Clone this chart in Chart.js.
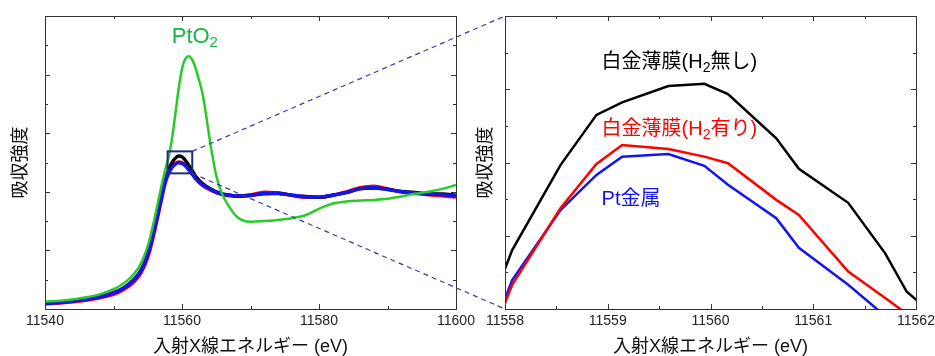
<!DOCTYPE html>
<html>
<head>
<meta charset="utf-8">
<script src="https://cdn.jsdelivr.net/npm/chart.js@4"></script>
<style>
	body { margin: 0; background: #ffffff; }
	#wrap { position: relative; width: 935px; height: 356px; }
	canvas { position: absolute; left: 0; top: 0; }
</style>
</head>
<body>
<div id="wrap">
	<canvas id="wideChart" width="935" height="356"></canvas>
	<canvas id="zoomChart" width="935" height="356"></canvas>
</div>
<script>
// Full XANES spectra (left panel)
const leftEnergy = [11540, 11543, 11546, 11548, 11550, 11551, 11552, 11553, 11554, 11555, 11556, 11557, 11557.5, 11558, 11558.5, 11559, 11559.5, 11560, 11560.5, 11561, 11561.5, 11562, 11562.5, 11563, 11563.5, 11564, 11564.5, 11565, 11565.5, 11566, 11567, 11568, 11570, 11572, 11574, 11576, 11578, 11580, 11582, 11584, 11586, 11588, 11590, 11592, 11594, 11596, 11598, 11600];
const pto2 = [0.25, 0.3, 0.4, 0.5, 0.68, 0.8, 0.97, 1.2, 1.55, 2.15, 3.1, 4.2, 4.7, 5.15, 5.75, 6.6, 7.5, 8.2, 8.55, 8.63, 8.5, 8.2, 7.8, 7.35, 6.65, 5.85, 5.15, 4.55, 4.15, 3.85, 3.45, 3.15, 2.98, 3.0, 3.04, 3.1, 3.2, 3.42, 3.6, 3.67, 3.7, 3.72, 3.76, 3.84, 3.93, 4.0, 4.1, 4.23];
const ptFoil = [0.19, 0.24, 0.33, 0.41, 0.55, 0.65, 0.8, 1.0, 1.3, 1.85, 2.75, 3.8, 4.3, 4.62, 4.82, 4.94, 4.99, 4.97, 4.88, 4.75, 4.6, 4.45, 4.33, 4.24, 4.16, 4.1, 4.04, 3.99, 3.95, 3.92, 3.88, 3.86, 3.87, 3.95, 3.94, 3.89, 3.83, 3.82, 3.88, 3.98, 4.1, 4.14, 4.08, 4.0, 3.96, 3.93, 3.9, 3.86];
const filmH2 = [0.17, 0.22, 0.3, 0.38, 0.5, 0.6, 0.74, 0.93, 1.22, 1.75, 2.65, 3.72, 4.25, 4.6, 4.83, 4.96, 5.02, 5.0, 4.9, 4.76, 4.6, 4.45, 4.32, 4.22, 4.14, 4.08, 4.02, 3.97, 3.93, 3.9, 3.86, 3.85, 3.89, 3.99, 3.96, 3.88, 3.81, 3.81, 3.88, 4.0, 4.14, 4.19, 4.1, 4.0, 3.94, 3.9, 3.86, 3.82];
const filmNoH2 = [0.2, 0.25, 0.34, 0.42, 0.56, 0.66, 0.81, 1.01, 1.32, 1.88, 2.78, 3.83, 4.35, 4.7, 4.98, 5.14, 5.22, 5.2, 5.07, 4.9, 4.72, 4.53, 4.39, 4.28, 4.19, 4.12, 4.06, 4.0, 3.96, 3.92, 3.89, 3.85, 3.88, 3.93, 3.95, 3.88, 3.84, 3.81, 3.89, 3.97, 4.11, 4.13, 4.09, 4.01, 3.98, 3.92, 3.93, 3.88];

// Zoomed peak region (right panel)
const zoomEnergy = [11557.7, 11558.07, 11558.54, 11558.89, 11559.14, 11559.59, 11559.94, 11560.17, 11560.64, 11560.86, 11561.34, 11561.70, 11561.91, 11562.2];
const zoomNoH2 = [-1.09, 1.61, 3.93, 5.30, 5.64, 6.09, 6.15, 5.87, 4.66, 3.83, 2.90, 1.52, 0.47, -0.21];
const zoomH2 = [-1.93, 0.66, 2.75, 3.96, 4.48, 4.37, 4.16, 3.98, 2.98, 2.57, 1.02, 0.30, -0.13, -0.7];
const zoomFoil = [-1.91, 0.79, 2.70, 3.66, 4.16, 4.23, 3.91, 3.39, 2.48, 1.67, 0.66, -0.19, -0.7, -1.4];

// Tick labels and the zoom box (in data units of the left panel)
const leftXLabels = [11540, 11560, 11580, 11600];
const rightXLabels = [11558, 11559, 11560, 11561, 11562];
const zoomBoxEnergy = [11557.9, 11561.5];
const zoomBoxSignal = [4.63, 5.38];

const FONT = '"Liberation Sans", "Noto Sans CJK JP", sans-serif';
const GREEN = '#28cc28';

function toPoints(xs, ys) {
	return xs.map((x, i) => ({ x: x, y: ys[i] }));
}

function isMultiple(v, step) {
	return Math.abs(v / step - Math.round(v / step)) < 1e-6;
}

// text with subscript parts: [['PtO', false], ['2', true]]
function drawRich(ctx, parts, x, y, size, color) {
	ctx.fillStyle = color;
	ctx.textBaseline = 'middle';
	ctx.textAlign = 'left';
	let cx = x;
	parts.forEach(([txt, sub]) => {
		const s = sub ? Math.round(size * 0.7) : size;
		ctx.font = s + 'px ' + FONT;
		ctx.fillText(txt, cx, sub ? y + size * 0.28 : y);
		cx += ctx.measureText(txt).width;
	});
}

// frame + inward ticks on all four sides
const frameTicks = {
	id: 'frameTicks',
	afterDatasetsDraw(chart, args, opts) {
		const { ctx, chartArea: a, scales: { x, y } } = chart;
		ctx.save();
		ctx.strokeStyle = '#333333';
		ctx.lineWidth = 1;
		ctx.beginPath();
		x.ticks.forEach(t => {
			const px = Math.round(x.getPixelForValue(t.value)) + 0.5;
			const len = isMultiple(t.value, opts.xMajor) ? 5 : 3;
			ctx.moveTo(px, a.bottom); ctx.lineTo(px, a.bottom - len);
			ctx.moveTo(px, a.top); ctx.lineTo(px, a.top + len);
		});
		y.ticks.forEach(t => {
			const py = Math.round(y.getPixelForValue(t.value)) + 0.5;
			const len = isMultiple(t.value, opts.yMajor) ? 5 : 3;
			ctx.moveTo(a.left, py); ctx.lineTo(a.left + len, py);
			ctx.moveTo(a.right, py); ctx.lineTo(a.right - len, py);
		});
		ctx.stroke();
		ctx.strokeRect(Math.round(a.left) + 0.5, Math.round(a.top) + 0.5, Math.round(a.width), Math.round(a.height));
		ctx.restore();
	}
};

// labels and zoom box for the left panel
const wideDecor = {
	id: 'wideDecor',
	afterDatasetsDraw(chart) {
		const { ctx, scales: { x, y } } = chart;
		ctx.save();
		ctx.strokeStyle = '#1f2a80';
		ctx.lineWidth = 2;
		const x0 = x.getPixelForValue(zoomBoxEnergy[0]), x1 = x.getPixelForValue(zoomBoxEnergy[1]);
		const y0 = y.getPixelForValue(zoomBoxSignal[1]), y1 = y.getPixelForValue(zoomBoxSignal[0]);
		ctx.strokeRect(x0, y0, x1 - x0, y1 - y0);
		drawRich(ctx, [['PtO', false], ['2', true]], x.getPixelForValue(11558.5), y.getPixelForValue(9.3), 22, '#1cb44a');
		ctx.restore();
	}
};

// labels and dashed connectors for the right panel
const zoomDecor = {
	id: 'zoomDecor',
	afterDraw(chart) {
		const { ctx, chartArea: a, scales: { x, y } } = chart;
		ctx.save();
		drawRich(ctx, [['白金薄膜(H', false], ['2', true], ['無し)', false]], x.getPixelForValue(11558.94), y.getPixelForValue(6.72), 20, '#000000');
		drawRich(ctx, [['白金薄膜(H', false], ['2', true], ['有り)', false]], x.getPixelForValue(11558.94), y.getPixelForValue(4.9), 20, '#ff0000');
		drawRich(ctx, [['Pt金属', false]], x.getPixelForValue(11558.94), y.getPixelForValue(2.98), 20, '#1010f0');

		const L = wideChart.scales;
		const bx = L.x.getPixelForValue(zoomBoxEnergy[1]);
		ctx.strokeStyle = '#3a3aaa';
		ctx.lineWidth = 1.2;
		ctx.setLineDash([5, 4]);
		ctx.beginPath();
		ctx.moveTo(bx, L.y.getPixelForValue(zoomBoxSignal[1]));
		ctx.lineTo(a.left, a.top);
		ctx.moveTo(bx, L.y.getPixelForValue(zoomBoxSignal[0]));
		ctx.lineTo(a.left, a.bottom);
		ctx.stroke();
		ctx.restore();
	}
};

function axisOptions(min, max, step, labels, title, titlePad, size, horizontal) {
	return {
		type: 'linear',
		min: min,
		max: max,
		grid: { display: false, drawTicks: false },
		border: { display: false },
		ticks: {
			stepSize: step,
			display: horizontal,
			padding: 4,
			color: '#222222',
			font: { family: FONT, size: 14 },
			callback: v => labels.some(l => Math.abs(l - v) < 1e-6) ? String(v) : ''
		},
		title: {
			display: true,
			text: title,
			color: '#111111',
			font: { family: FONT, size: 18, lineHeight: 1 },
			padding: { top: titlePad, bottom: 0 }
		},
		afterFit: s => {
			if (horizontal) {
				s.height = size;
				s.paddingLeft = 0;
				s.paddingRight = 0;
			} else {
				s.width = size;
			}
		}
	};
}

function line(data, color, width, tension) {
	return {
		data: data,
		borderColor: color,
		backgroundColor: color,
		borderWidth: width,
		pointRadius: 0,
		tension: tension,
		cubicInterpolationMode: tension ? 'monotone' : 'default',
		fill: false
	};
}

const wideChart = new Chart(document.getElementById('wideChart'), {
	type: 'line',
	data: {
		datasets: [
			line(toPoints(leftEnergy, pto2), GREEN, 2.5, 0.4),
			line(toPoints(leftEnergy, ptFoil), '#1414f0', 3.4, 0.4),
			line(toPoints(leftEnergy, filmNoH2), '#000000', 3.4, 0.4),
			line(toPoints(leftEnergy, filmH2), '#ff0000', 3.4, 0.4)
		]
	},
	options: {
		responsive: false,
		animation: false,
		layout: { padding: { left: 0, right: 479, top: 16, bottom: 0 } },
		plugins: {
			legend: { display: false },
			tooltip: { enabled: false },
			frameTicks: { xMajor: 20, yMajor: 2 }
		},
		scales: {
			x: axisOptions(11540, 11600, 10, leftXLabels, '入射X線エネルギー (eV)', 0, 47, true),
			y: axisOptions(0, 10, 1, [], '吸収強度', 12, 45, false)
		}
	},
	plugins: [frameTicks, wideDecor]
});

const zoomChart = new Chart(document.getElementById('zoomChart'), {
	type: 'line',
	data: {
		datasets: [
			line(toPoints(zoomEnergy, zoomNoH2), '#000000', 2.5, 0),
			line(toPoints(zoomEnergy, zoomH2), '#ff0000', 2.5, 0),
			line(toPoints(zoomEnergy, zoomFoil), '#1414f0', 2.5, 0)
		]
	},
	options: {
		responsive: false,
		animation: false,
		layout: { padding: { left: 460, right: 19, top: 16, bottom: 0 } },
		plugins: {
			legend: { display: false },
			tooltip: { enabled: false },
			frameTicks: { xMajor: 1, yMajor: 2 }
		},
		scales: {
			x: axisOptions(11558, 11562, 0.5, rightXLabels, '入射X線エネルギー (eV)', 0, 47, true),
			y: axisOptions(0, 8, 1, [], '吸収強度', 17, 45, false)
		}
	},
	plugins: [frameTicks, zoomDecor]
});
</script>
</body>
</html>
